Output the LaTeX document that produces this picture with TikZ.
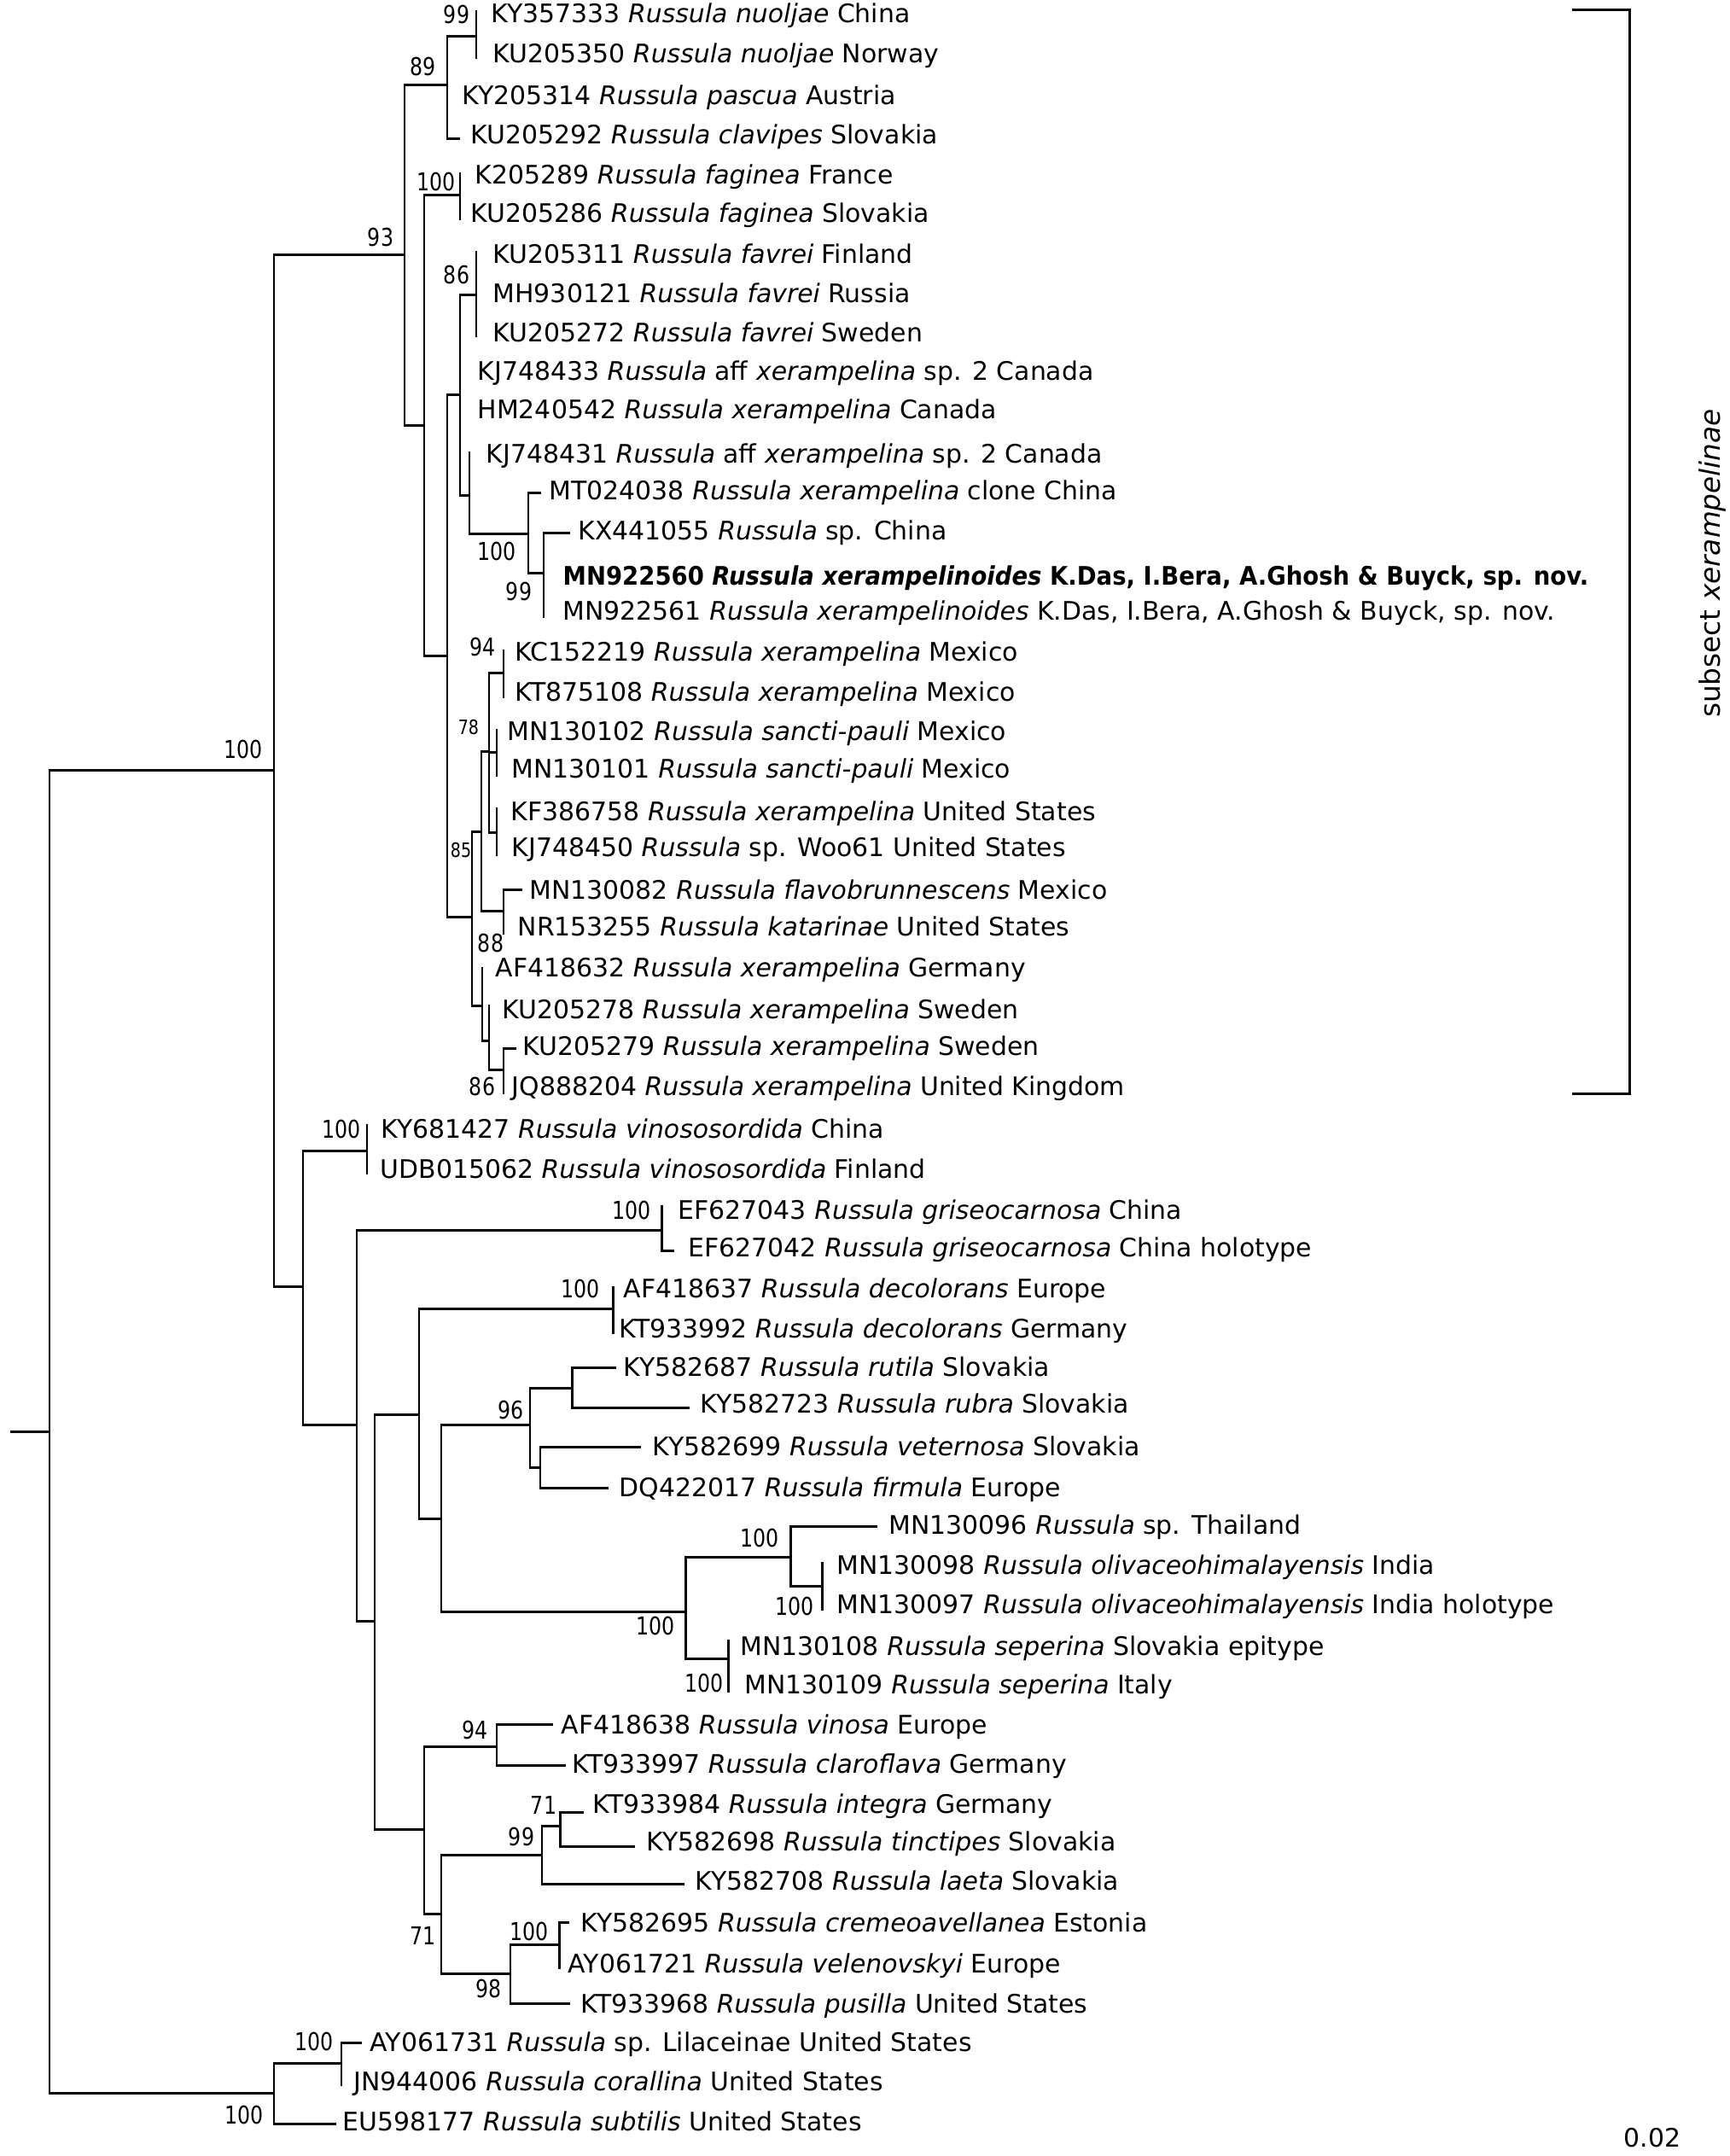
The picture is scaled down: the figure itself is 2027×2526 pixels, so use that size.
\documentclass[tikz,border=0pt]{standalone}
\usepackage{fontspec}
\setmainfont{DejaVu Sans}
\newfontfamily\bootfont[FakeStretch=0.82]{DejaVu Sans}
\newfontfamily\novfont[FakeStretch=0.92]{DejaVu Sans}
\usetikzlibrary{positioning}

\tikzset{
  branch/.style={line width=0.85pt,line cap=rect},
  leaf/.style={anchor=mid west,inner sep=0pt,yshift=-0.8pt,font=\fontsize{8.5}{10}\selectfont},
  boot/.style={inner sep=0pt,font=\bootfont\fontsize{8.2}{10}\selectfont},
  bootsmall/.style={inner sep=0pt,font=\bootfont\fontsize{6.6}{8}\selectfont},
}

\begin{document}
\begin{tikzpicture}[x=0.01cm,y=-0.01cm]
\useasboundingbox (0,0) rectangle (2027,2526);
% internal nodes of the tree
\foreach \n/\x/\y in {root/13/1677,nA/58/1677,nIn/321/902,nOut/321/2452,n93/474/298,nB/355/1507,n89/524/99,n99a/558/42,
  nC/497/498,n100b/539/228,nD/524/768,nE/539/462,n86a/558/345,nG/550/580,n100c/619/625,n99b/637/671,
  nF/553/1074,n85/564/974,n78/573/880,n94a/590/788,nI/582/881,nJ/582/975,n88/590/1067,nH/565/1178,nK/573/1219,n86b/590/1253,
  n100d/430/1348,nL/418/1669,n100e/775/1441,nM/439/1899,nN/491/1657,nO/497/2143,n100f/718/1533,nP/517/1779,
  n96/621/1669,n100g/803/1888,nQ/670/1626,nR/633/1719,n100h/926/1824,n100i/853/1943,n100j/963/1858,
  n94b/582/2046,n71a/517/2242,n99c/635/2173,n98/598/2312,n71b/656/2139,n100k/655/2278,n100l/400/2417}
  {\coordinate (\n) at (\x,\y);}
% tips and their labels
\foreach \tx/\ty/\lx/\ly/\txt [count=\i] in {
  558/13/575/14/{KY357333 \textit{Russula nuoljae} China},
  558/67/577/61/{KU205350 \textit{Russula nuoljae} Norway},
  524/110/541/110/{KY205314 \textit{Russula pascua} Austria},
  538/162/551/156/{KU205292 \textit{Russula clavipes} Slovakia},
  539/203/556/203/{K205289 \textit{Russula faginea} France},
  539/256/551/248/{KU205286 \textit{Russula faginea} Slovakia},
  558/295/577/296/{KU205311 \textit{Russula favrei} Finland},
  558/342/577/342/{MH930121 \textit{Russula favrei} Russia},
  558/393/577/388/{KU205272 \textit{Russula favrei} Sweden},
  539/433/559/433/{KJ748433 \textit{Russula} aff \textit{xerampelina} sp. 2 Canada},
  539/480/559/478/{HM240542 \textit{Russula xerampelina} Canada},
  550/530/569/530/{KJ748431 \textit{Russula} aff \textit{xerampelina} sp. 2 Canada},
  633/577/643/573/{MT024038 \textit{Russula xerampelina} clone China},
  666/624/677/620/{KX441055 \textit{Russula} sp. China},
  637/672/659/673/{\novfont\bfseries MN922560 \textit{Russula xerampelinoides} K.Das, I.Bera, A.Ghosh \& Buyck, sp. nov.},
  637/722/659/714/{MN922561 \textit{Russula xerampelinoides} K.Das, I.Bera, A.Ghosh \& Buyck, sp. nov.},
  590/762/603/762/{KC152219 \textit{Russula xerampelina} Mexico},
  590/816/603/809/{KT875108 \textit{Russula xerampelina} Mexico},
  582/855/594/855/{MN130102 \textit{Russula sancti-pauli} Mexico},
  582/908/599/899/{MN130101 \textit{Russula sancti-pauli} Mexico},
  582/947/598/949/{KF386758 \textit{Russula xerampelina} United States},
  582/1001/599/991/{KJ748450 \textit{Russula} sp. Woo61 United States},
  611/1042/620/1041/{MN130082 \textit{Russula flavobrunnescens} Mexico},
  590/1093/606/1084/{NR153255 \textit{Russula katarinae} United States},
  565/1134/580/1132/{AF418632 \textit{Russula xerampelina} Germany},
  573/1178/588/1181/{KU205278 \textit{Russula xerampelina} Sweden},
  604/1228/612/1224/{KU205279 \textit{Russula xerampelina} Sweden},
  590/1280/599/1271/{JQ888204 \textit{Russula xerampelina} United Kingdom},
  430/1318/446/1321/{KY681427 \textit{Russula vinososordida} China},
  430/1374/445/1368/{UDB015062 \textit{Russula vinososordida} Finland},
  775/1413/794/1416/{EF627043 \textit{Russula griseocarnosa} China},
  788/1465/806/1460/{EF627042 \textit{Russula griseocarnosa} China holotype},
  718/1508/730/1508/{AF418637 \textit{Russula decolorans} Europe},
  718/1561/725/1555/{KT933992 \textit{Russula decolorans} Germany},
  720/1602/730/1600/{KY582687 \textit{Russula rutila} Slovakia},
  806/1649/820/1643/{KY582723 \textit{Russula rubra} Slovakia},
  749/1695/764/1693/{KY582699 \textit{Russula veternosa} Slovakia},
  711/1743/725/1741/{DQ422017 \textit{Russula firmula} Europe},
  1026/1788/1041/1785/{MN130096 \textit{Russula} sp. Thailand},
  963/1831/980/1832/{MN130098 \textit{Russula olivaceohimalayensis} India},
  963/1885/980/1878/{MN130097 \textit{Russula olivaceohimalayensis} India holotype},
  853/1922/867/1927/{MN130108 \textit{Russula seperina} Slovakia epitype},
  853/1981/872/1972/{MN130109 \textit{Russula seperina} Italy},
  646/2020/657/2019/{AF418638 \textit{Russula vinosa} Europe},
  661/2068/670/2065/{KT933997 \textit{Russula claroflava} Germany},
  682/2123/694/2112/{KT933984 \textit{Russula integra} Germany},
  742/2163/757/2156/{KY582698 \textit{Russula tinctipes} Slovakia},
  800/2207/814/2202/{KY582708 \textit{Russula laeta} Slovakia},
  665/2252/680/2251/{KY582695 \textit{Russula cremeoavellanea} Estonia},
  655/2305/665/2299/{AY061721 \textit{Russula velenovskyi} Europe},
  666/2347/680/2346/{KT933968 \textit{Russula pusilla} United States},
  423/2393/433/2391/{AY061731 \textit{Russula} sp. Lilaceinae United States},
  400/2442/414/2437/{JN944006 \textit{Russula corallina} United States},
  393/2488/401/2484/{EU598177 \textit{Russula subtilis} United States}}
  {\coordinate (t\i) at (\tx,\ty); \node[leaf] (l\i) at (\lx,\ly) {\txt};}
% branches, parent to child
\foreach \p/\c in {root/nA,nA/nIn,nA/nOut,nIn/n93,nIn/nB,n93/n89,n93/nC,n89/n99a,n89/t3,n89/t4,n99a/t1,n99a/t2,
  nC/n100b,nC/nD,n100b/t5,n100b/t6,nD/nE,nD/nF,nE/n86a,nE/t10,nE/t11,nE/nG,n86a/t7,n86a/t8,n86a/t9,
  nG/t12,nG/n100c,n100c/t13,n100c/n99b,n99b/t14,n99b/t15,n99b/t16,nF/n85,nF/nH,n85/n78,n85/n88,
  n78/n94a,n78/nI,n78/nJ,n94a/t17,n94a/t18,nI/t19,nI/t20,nJ/t21,nJ/t22,n88/t23,n88/t24,
  nH/t25,nH/nK,nK/t26,nK/n86b,n86b/t27,n86b/t28,nB/n100d,nB/nL,n100d/t29,n100d/t30,nL/n100e,nL/nM,
  n100e/t31,n100e/t32,nM/nN,nM/nO,nN/n100f,nN/nP,n100f/t33,n100f/t34,nP/n96,nP/n100g,n96/nQ,n96/nR,
  nQ/t35,nQ/t36,nR/t37,nR/t38,n100g/n100h,n100g/n100i,n100h/t39,n100h/n100j,n100j/t40,n100j/t41,
  n100i/t42,n100i/t43,nO/n94b,nO/n71a,n94b/t44,n94b/t45,n71a/n99c,n71a/n98,n99c/n71b,n99c/t48,
  n71b/t46,n71b/t47,n98/n100k,n98/t51,n100k/t49,n100k/t50,nOut/n100l,nOut/t54,n100l/t52,n100l/t53}
  {\draw[branch] (\p) |- (\c);}
% bootstrap values
\foreach \x/\y/\v [count=\i] in {535/17/99,496/78/89,446/278/93,511/213/100,535/322/86,582/646/100,608/693/99,
  566/758/94,575/1105/88,565/1273/86,285/878/100,400/1323/100,740/1418/100,680/1510/100,599/1652/96,
  890/1802/100,931/1882/100,768/1905/100,825/1972/100,557/2027/94,637/2115/71,611/2152/99,496/2268/71,
  620/2263/100,573/2330/98,368/2392/100,286/2478/100}
  {\node[boot] (b\i) at (\x,\y) {\v};}
\node[bootsmall] (b78) at (549,852) {78};
\node[bootsmall] (b85) at (540,996) {85};
% subsection bracket
\coordinate (brtop) at (1843,11);
\coordinate (brbot) at (1843,1281);
\draw[branch] (brtop) -- ++(66,0) |- (brbot);
\node[rotate=90,inner sep=0pt,font=\fontsize{9.3}{11}\selectfont] (subsect) at (2006,660) {subsect \textit{xerampelinae}};
\node[inner sep=0pt,font=\fontsize{8.5}{10}\selectfont] (scale) at (1936,2505) {0.02};
\end{tikzpicture}
\end{document}
